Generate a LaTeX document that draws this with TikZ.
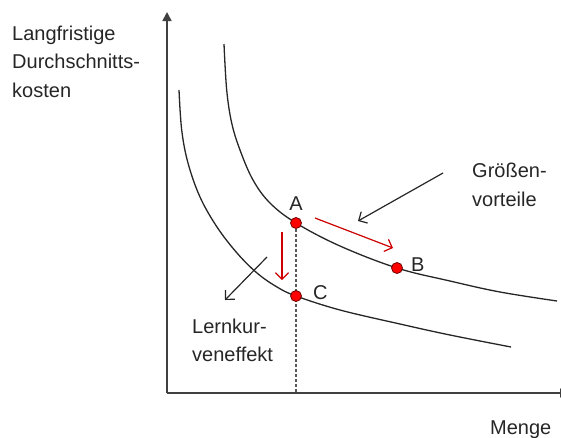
\documentclass[tikz,border=0pt]{standalone}
\usepackage{fontspec}
\setmainfont{Liberation Sans}
\usetikzlibrary{arrows.meta, backgrounds, positioning}

\begin{document}
\begin{tikzpicture}[
    x=1pt, y=-1pt,
    axisLine/.style={line width=1.6pt, black!75}, % 坐标轴
    costCurve/.style={line width=1.3pt, black!85}, % 成本曲线
    redDot/.style={circle, fill=red, draw=red!45!black, line width=0.8pt, minimum size=11pt, inner sep=0pt}, % 红色点
    redArrow/.style={line width=1.2pt, red!80!black, -{Straight Barb[length=6.5pt, width=13pt]}}, % 红色箭头
    blackArrow/.style={line width=1.2pt, black!85, -{Straight Barb[length=6.5pt, width=13pt]}}, % 黑色箭头
    bigText/.style={font=\fontsize{20}{28.5}\selectfont, text=black!85, inner sep=0pt, align=left}, % 文字
]
    \useasboundingbox (0,0) rectangle (561,437);
    \clip (0,0) rectangle (561,437);

    % 1. 坐标轴
    \coordinate (origin) at (167,393);
    \coordinate (yTop) at (167,12);
    \coordinate (xEnd) at (569,393);
    \draw[axisLine, -{Triangle[length=9pt, width=9pt]}] (origin) -- (yTop);
    \draw[axisLine, -{Triangle[length=9pt, width=9pt]}] (origin) -- (xEnd);

    % 2. 两条平均成本曲线
    \draw[costCurve] plot[smooth, tension=0.6] coordinates {
        (224,44) (226.7,90) (231.7,123) (240,150) (253,180) (270,203) (296,223)
        (340,246) (397,268) (450,281) (500,292) (557,301)};
    \draw[costCurve] plot[smooth, tension=0.6] coordinates {
        (179,90) (181.7,130) (188,163) (200,197) (217,227) (237,253) (257,273)
        (277,287) (296,296) (340,310) (400,324) (450,335) (511,347)};

    % 3. 点 A, B, C
    \node[redDot] (A) at (296,223) {};
    \node[redDot] (B) at (397,268) {};
    \node[redDot] (C) at (296,296) {};
    \node[bigText, above=6pt of A] (labA) {A};
    \node[bigText, right=8pt of B, yshift=3.5pt] (labB) {B};
    \node[bigText, right=11pt of C, yshift=3pt] (labC) {C};

    \begin{scope}[on background layer]
        \draw[line width=1.1pt, black!65, dash pattern=on 3pt off 2pt] (A) -- (A |- origin);
    \end{scope}

    % 4. 箭头
    \coordinate (moveFrom) at (315,218);
    \coordinate (moveTo) at (393,248);
    \coordinate (dropFrom) at (282,232);
    \coordinate (dropTo) at (282,280);
    \coordinate (gvFrom) at (443,173);
    \coordinate (gvTo) at (358,221);
    \coordinate (lkFrom) at (267,257);
    \coordinate (lkTo) at (225,300);
    \draw[redArrow] (moveFrom) -- (moveTo);
    \draw[redArrow] (dropFrom) -- (dropTo);
    \draw[blackArrow] (gvFrom) -- (gvTo);
    \draw[blackArrow] (lkFrom) -- (lkTo);

    % 5. 文字说明
    \node[bigText, anchor=north west] (yLabel) at (12,25.5) {Langfristige\\Durchschnitts-\\kosten};
    \node[bigText, anchor=north west] (gvLabel) at (472,163) {Größen-\\vorteile};
    \node[bigText, anchor=north west] (lkLabel) at (192,318.5) {Lernkur-\\veneffekt};
    \node[bigText, anchor=base west] (xLabel) at (490,434) {Menge};
\end{tikzpicture}
\end{document}
